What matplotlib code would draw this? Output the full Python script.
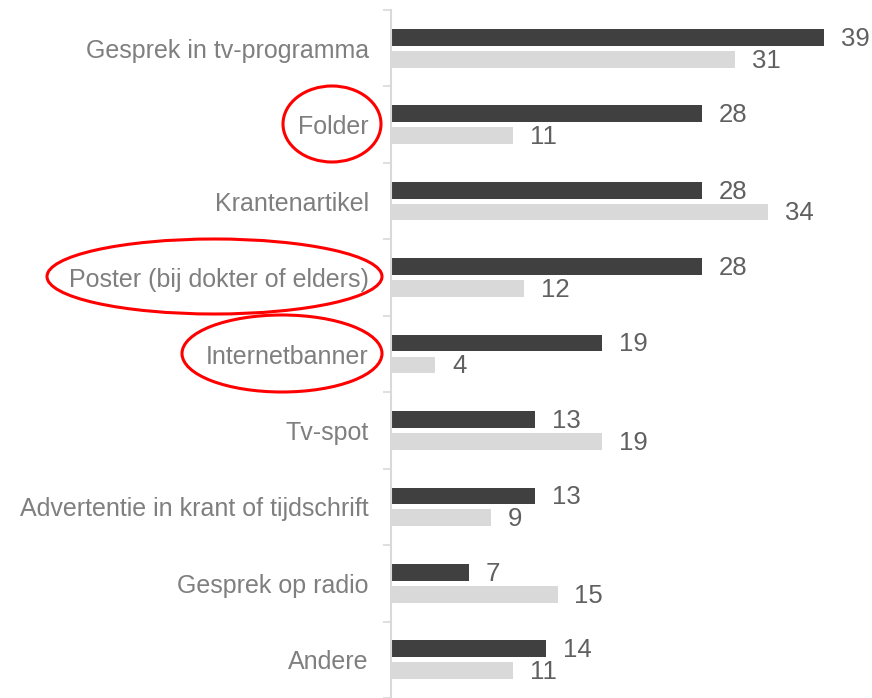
import matplotlib.pyplot as plt
from matplotlib.patches import Ellipse
import numpy as np

categories = ['Gesprek in tv-programma', 'Folder', 'Krantenartikel',
              'Poster (bij dokter of elders)', 'Internetbanner', 'Tv-spot',
              'Advertentie in krant of tijdschrift', 'Gesprek op radio', 'Andere']
dark_vals = [39, 28, 28, 28, 19, 13, 13, 7, 14]
light_vals = [31, 11, 34, 12, 4, 19, 9, 15, 11]

plt.rcParams['font.family'] = ['Liberation Sans', 'DejaVu Sans']

W, H = 872, 698
fig = plt.figure(figsize=(W / 100, H / 100), dpi=100)
ax = fig.add_axes([391 / W, 0, 1 - 391 / W, 1 - 10 / H])

y = np.arange(len(categories))
h = 0.22
off = 0.143
ax.barh(y - off, dark_vals, height=h, color='#404040')
ax.barh(y + off, light_vals, height=h, color='#d9d9d9')

for yi, v in zip(y - off, dark_vals):
    ax.annotate(str(v), (v, yi), xytext=(12, -1), textcoords='offset points',
                va='center', ha='left', fontsize=18.5, color='#606060')
for yi, v in zip(y + off, light_vals):
    ax.annotate(str(v), (v, yi), xytext=(12, -1), textcoords='offset points',
                va='center', ha='left', fontsize=18.5, color='#606060')

ax.set_xlim(0, 481 / 11.1)
ax.set_ylim(8.435, -0.5)
ax.set_yticks(y)
ax.set_yticklabels(categories, fontsize=18, color='#7f7f7f')
ax.tick_params(axis='y', which='major', length=0, pad=16)
ax.set_yticks(np.arange(-0.5, 9, 1), minor=True)
ax.tick_params(axis='y', which='minor', length=6, width=1.2, color='#d9d9d9')
ax.set_xticks([])
for s in ['top', 'right', 'bottom']:
    ax.spines[s].set_visible(False)
ax.spines['left'].set_color('#d9d9d9')
ax.spines['left'].set_linewidth(1.5)

# red circles around some labels
ov = fig.add_axes([0, 0, 1, 1], facecolor='none')
ov.set_xlim(0, W)
ov.set_ylim(H, 0)
ov.axis('off')
for cx, cy, ew, eh in [(332, 124, 98, 76), (214.5, 276.5, 335, 75), (282, 353.5, 200, 77)]:
    ov.add_patch(Ellipse((cx, cy), ew, eh, fill=False, edgecolor='#ff0000', linewidth=2.2))

fig.savefig('out.png', dpi=100)
